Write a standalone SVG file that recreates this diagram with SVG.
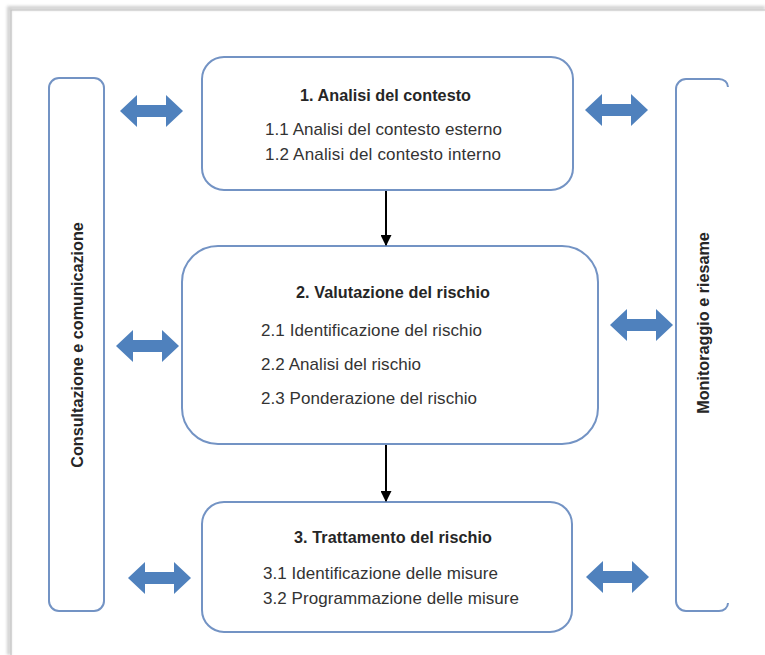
<svg xmlns="http://www.w3.org/2000/svg" width="765" height="655" viewBox="0 0 765 655">
  <style>
    .box { fill: #ffffff; stroke: #7393c4; stroke-width: 2; }
    .side { fill: none; stroke: #7393c4; stroke-width: 2; }
    .title { font-family: "Liberation Sans", Arial, sans-serif; font-weight: bold; font-size: 16.2px; fill: #262626; }
    .item { font-family: "Liberation Sans", Arial, sans-serif; font-size: 17px; fill: #333333; }
    .vert { font-family: "Liberation Sans", Arial, sans-serif; font-weight: bold; font-size: 16.2px; fill: #262626; }
    .dbl { fill: #4f81bd; }
    .flow { stroke: #000000; stroke-width: 2; fill: none; }
  </style>
  <defs>
    <filter id="soft" x="-10%" y="-10%" width="120%" height="120%">
      <feGaussianBlur stdDeviation="1.5"/>
    </filter>
    <path id="dblarrow" d="M0,0 L17,-16 L17,-6 L46,-6 L46,-16 L63,0 L46,16 L46,6 L17,6 L17,16 Z"/>
    <marker id="ah" viewBox="0 0 10 10" refX="9" refY="5" markerWidth="5.5" markerHeight="5.5" orient="auto" markerUnits="strokeWidth">
      <path d="M0,0 L10,5 L0,10 Z" fill="#000000"/>
    </marker>
  </defs>

  <rect width="765" height="655" fill="#ffffff"/>

  <!-- page frame with shadow -->
  <g id="frame">
    <path d="M9,655 L9,8 L765,8" fill="none" stroke="#d0d0d0" stroke-width="4" filter="url(#soft)"/>
    <path d="M11,655 L11,10 L765,10" fill="none" stroke="#c4c4c4" stroke-width="1.2"/>
  </g>

  <!-- side boxes -->
  <g id="consultazione">
    <rect class="side" x="49" y="78" width="55" height="533" rx="10" ry="10"/>
    <text class="vert" transform="translate(83,345) rotate(-90)" text-anchor="middle">Consultazione e comunicazione</text>
  </g>
  <g id="monitoraggio">
    <path class="side" d="M728,87 A9,8 0 0 0 719,79 L686,79 A10,10 0 0 0 676,89 L676,601 A10,10 0 0 0 686,611 L719,611 A9,8 0 0 0 728,603"/>
    <text class="vert" transform="translate(709,323) rotate(-90)" text-anchor="middle">Monitoraggio e riesame</text>
  </g>

  <!-- main boxes -->
  <g id="analisi">
    <rect class="box" x="202" y="57" width="371" height="133" rx="22" ry="22"/>
    <text class="title" x="300" y="101" textLength="171">1. Analisi del contesto</text>
    <text class="item" x="265" y="135" textLength="237">1.1 Analisi del contesto esterno</text>
    <text class="item" x="265" y="160" textLength="236">1.2 Analisi del contesto interno</text>
  </g>
  <g id="valutazione">
    <rect class="box" x="182" y="246" width="416" height="198" rx="36" ry="36"/>
    <text class="title" x="296" y="298" textLength="194">2. Valutazione del rischio</text>
    <text class="item" x="261" y="336" textLength="221">2.1 Identificazione del rischio</text>
    <text class="item" x="261" y="370" textLength="160">2.2 Analisi del rischio</text>
    <text class="item" x="261" y="404" textLength="216">2.3 Ponderazione del rischio</text>
  </g>
  <g id="trattamento">
    <rect class="box" x="202" y="502" width="370" height="130" rx="22" ry="22"/>
    <text class="title" x="294" y="543" textLength="198">3. Trattamento del rischio</text>
    <text class="item" x="263" y="579" textLength="235">3.1 Identificazione delle misure</text>
    <text class="item" x="263" y="604" textLength="256">3.2 Programmazione delle misure</text>
  </g>

  <!-- connectors -->
  <g id="connectors">
    <line class="flow" x1="386" y1="191" x2="386" y2="245" marker-end="url(#ah)"/>
    <line class="flow" x1="386" y1="445" x2="386" y2="501" marker-end="url(#ah)"/>
    <use href="#dblarrow" class="dbl" transform="translate(120,111)"/>
    <use href="#dblarrow" class="dbl" transform="translate(585,110)"/>
    <use href="#dblarrow" class="dbl" transform="translate(116,346)"/>
    <use href="#dblarrow" class="dbl" transform="translate(610,325)"/>
    <use href="#dblarrow" class="dbl" transform="translate(128,578)"/>
    <use href="#dblarrow" class="dbl" transform="translate(586,577)"/>
  </g>
</svg>
